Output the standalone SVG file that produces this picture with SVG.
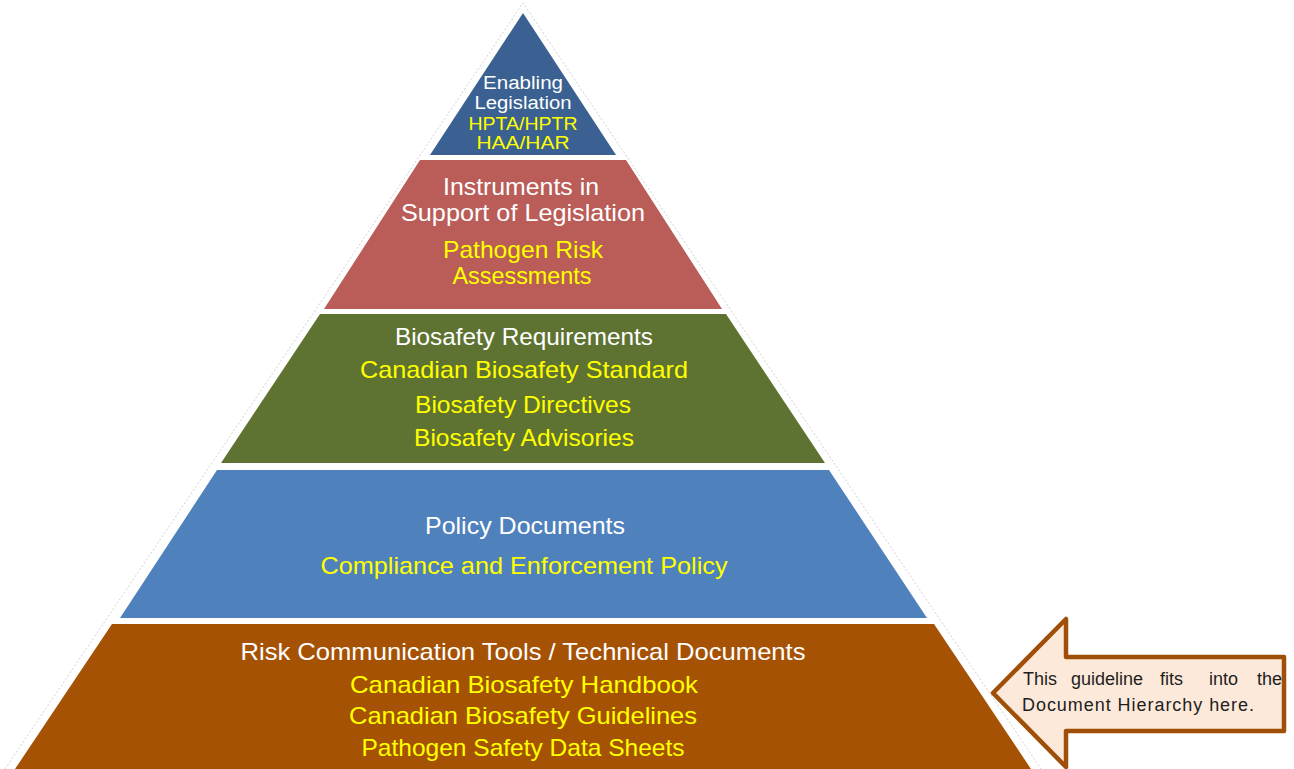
<svg xmlns="http://www.w3.org/2000/svg" width="1294" height="769" viewBox="0 0 1294 769">
  <style>
    .lbl { font-family: "Liberation Sans", Arial, sans-serif; font-size: 24px; text-anchor: middle; }
    .top { font-size: 18px; }
    .w { fill: #FFFFFF; }
    .y { fill: #FFFF00; }
    .note { font-family: "Liberation Sans", Arial, sans-serif; font-size: 18px; fill: #1E1E1E; }
  </style>
  <rect width="1294" height="769" fill="#FFFFFF"/>

  <!-- faint outline of the whole pyramid -->
  <polyline points="5,769 523,3 1041,769" fill="none" stroke="#D2D2D2" stroke-width="1" stroke-dasharray="2 2"/>

  <g id="level-enabling-legislation">
    <polygon points="523,13 616,155 430,155" fill="#3A6191"/>
    <text class="lbl top w" x="523" y="89" textLength="80" lengthAdjust="spacingAndGlyphs">Enabling</text>
    <text class="lbl top w" x="523" y="109" textLength="97" lengthAdjust="spacingAndGlyphs">Legislation</text>
    <text class="lbl top y" x="523" y="130" textLength="109" lengthAdjust="spacingAndGlyphs">HPTA/HPTR</text>
    <text class="lbl top y" x="523" y="149" textLength="93" lengthAdjust="spacingAndGlyphs">HAA/HAR</text>
  </g>

  <g id="level-instruments">
    <polygon points="420,160 626,160 722,309 324,309" fill="#BA5C57"/>
    <text class="lbl w" x="521" y="195" textLength="156" lengthAdjust="spacingAndGlyphs">Instruments in</text>
    <text class="lbl w" x="523" y="221" textLength="244" lengthAdjust="spacingAndGlyphs">Support of Legislation</text>
    <text class="lbl y" x="523" y="258" textLength="160" lengthAdjust="spacingAndGlyphs">Pathogen Risk</text>
    <text class="lbl y" x="522" y="284" textLength="139" lengthAdjust="spacingAndGlyphs">Assessments</text>
  </g>

  <g id="level-biosafety-requirements">
    <polygon points="320,314 726,314 825,463 221,463" fill="#5E7331"/>
    <text class="lbl w" x="524" y="345" textLength="258" lengthAdjust="spacingAndGlyphs">Biosafety Requirements</text>
    <text class="lbl y" x="524" y="378" textLength="328" lengthAdjust="spacingAndGlyphs">Canadian Biosafety Standard</text>
    <text class="lbl y" x="523" y="413" textLength="216" lengthAdjust="spacingAndGlyphs">Biosafety Directives</text>
    <text class="lbl y" x="524" y="446" textLength="220" lengthAdjust="spacingAndGlyphs">Biosafety Advisories</text>
  </g>

  <g id="level-policy-documents">
    <polygon points="217,470 829,470 927,618 120,618" fill="#4F81BD"/>
    <text class="lbl w" x="525" y="534" textLength="200" lengthAdjust="spacingAndGlyphs">Policy Documents</text>
    <text class="lbl y" x="524" y="574" textLength="407" lengthAdjust="spacingAndGlyphs">Compliance and Enforcement Policy</text>
  </g>

  <g id="level-risk-communication">
    <polygon points="112,624 934,624 1033,772 13,772" fill="#A65205"/>
    <text class="lbl w" x="523" y="660" textLength="565" lengthAdjust="spacingAndGlyphs">Risk Communication Tools / Technical Documents</text>
    <text class="lbl y" x="524" y="693" textLength="348" lengthAdjust="spacingAndGlyphs">Canadian Biosafety Handbook</text>
    <text class="lbl y" x="523" y="724" textLength="348" lengthAdjust="spacingAndGlyphs">Canadian Biosafety Guidelines</text>
    <text class="lbl y" x="523" y="756" textLength="323" lengthAdjust="spacingAndGlyphs">Pathogen Safety Data Sheets</text>
  </g>

  <g id="callout">
    <polygon points="993,693 1066,619 1066,657 1284,657 1284,731 1066,731 1066,767" fill="#FDE9D9" stroke="#A04F08" stroke-width="4.5" stroke-linejoin="round"/>
    <!-- justified first line: each word placed on its own -->
    <text class="note" x="1023" y="685">This</text>
    <text class="note" x="1071" y="685">guideline</text>
    <text class="note" x="1160" y="685">fits</text>
    <text class="note" x="1209" y="685">into</text>
    <text class="note" x="1257" y="685">the</text>
    <text class="note" x="1022" y="711" textLength="232" lengthAdjust="spacing">Document Hierarchy here.</text>
  </g>
</svg>
